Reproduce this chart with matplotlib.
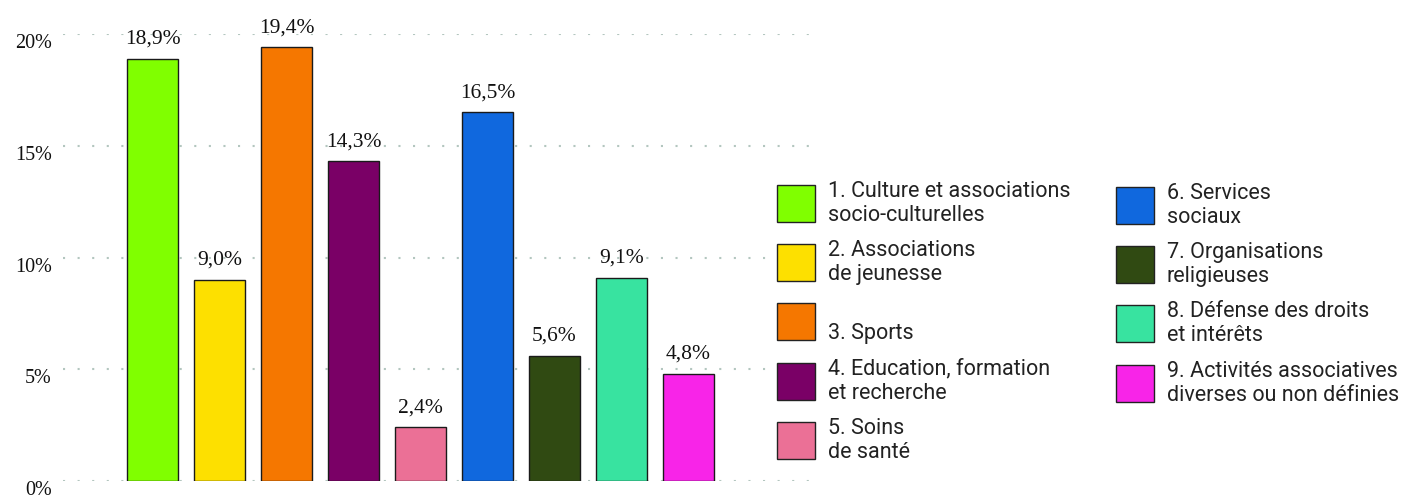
import matplotlib
matplotlib.use('Agg')
import matplotlib.pyplot as plt
from matplotlib.patches import Rectangle
from matplotlib.transforms import ScaledTranslation

categories = [
    "1. Culture et associations\nsocio-culturelles",
    "2. Associations\nde jeunesse",
    "\n3. Sports",
    "4. Education, formation\net recherche",
    "5. Soins\nde santé",
    "6. Services\nsociaux",
    "7. Organisations\nreligieuses",
    "8. Défense des droits\net intérêts",
    "9. Activités associatives\ndiverses ou non définies",
]
values = [18.9, 9.0, 19.4, 14.3, 2.4, 16.5, 5.6, 9.1, 4.8]
colors = ['#80ff00', '#fde000', '#f57700', '#7a0066', '#eb7096',
          '#1068de', '#304a12', '#38e3a0', '#f824e8']
y_ticks = [0, 5, 10, 15, 20]
y_tick_labels = ['0%', '5%', '10%', '15%', '20%']

W, H = 1402, 495
fig = plt.figure(figsize=(W / 100, H / 100), dpi=100)
ax = fig.add_axes([63 / W, (H - 481) / H, (815 - 63) / W, (481 - 34) / H])

x = list(range(len(values)))
ax.bar(x, values, width=0.752, color=colors, edgecolor='#1a1a1a', linewidth=1, zorder=2)
ax.set_xlim(-1.336, 9.888)
ax.set_ylim(0, 20)

# dotted grid
for t in y_ticks:
    ax.axhline(t, color='#b3c6bf', lw=1.5, linestyle=(0, (1.0, 6.0)), zorder=1)

for s in ax.spines.values():
    s.set_visible(False)
ax.set_xticks([])
ax.set_yticks(y_ticks)
ax.set_yticklabels(y_tick_labels, fontfamily='Liberation Serif', fontsize=14.5, color='#111')
ax.tick_params(axis='y', length=0, pad=8)
for lab in ax.get_yticklabels():
    lab.set_transform(lab.get_transform() + ScaledTranslation(0, -7 / 100, fig.dpi_scale_trans))

for i, v in enumerate(values):
    ax.annotate(f"{v:.1f}".replace('.', ',') + '%', xy=(i, v), xytext=(0, 10.8),
                textcoords='offset points', ha='center', va='baseline',
                fontfamily='Liberation Serif', fontsize=15.5, color='#111')

# legend, two columns of five rows
for i, lab in enumerate(categories):
    col, row = divmod(i, 5)
    sx = 777 if col == 0 else 1116
    top = (185 if col == 0 else 187) + 59.2 * row
    fig.patches.append(Rectangle((sx / W, (H - top - 37) / H), 38 / W, 37 / H,
                                 transform=fig.transFigure, facecolor=colors[i],
                                 edgecolor='#222', linewidth=1, zorder=5))
    fig.text((sx + 51) / W, (H - top - 18.5) / H, lab, ha='left', va='center',
             fontfamily='Roboto', fontsize=15.5, color='#222', linespacing=1.19, zorder=5)

plt.savefig('out.png', facecolor='white')
plt.close()
